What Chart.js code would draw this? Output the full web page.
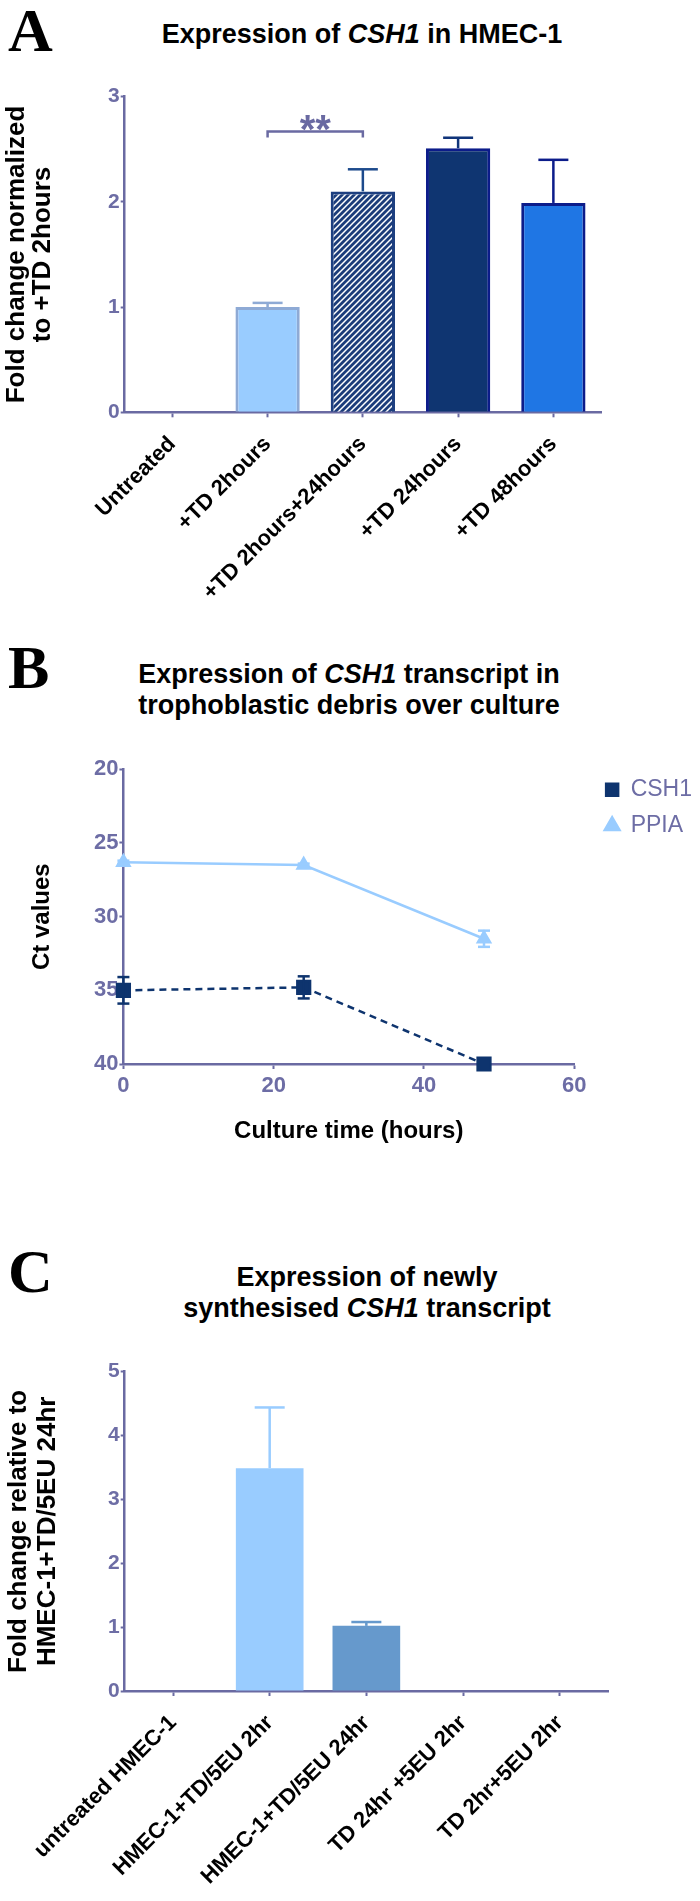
<!DOCTYPE html>
<html>
<head>
<meta charset="utf-8">
<script src="https://cdn.jsdelivr.net/npm/chart.js@4.4.1/dist/chart.umd.min.js"></script>
<style>
  html, body { margin: 0; padding: 0; background: #fff; }
  body { width: 700px; height: 1901px; position: relative; overflow: hidden;
         font-family: "Liberation Sans", Arial, sans-serif; }
  .letter { position: absolute; left: 8px; font-family: "Liberation Serif", "Times New Roman", serif;
            font-weight: bold; font-size: 62px; line-height: 1; color: #000; }
  .title { position: absolute; font-weight: bold; font-size: 27px; line-height: 31px;
           color: #000; text-align: center; white-space: nowrap; }
  canvas { position: absolute; left: 0; }
</style>
</head>
<body>

<div class="letter" style="top:-1px;">A</div>
<div class="title" style="left:112px; top:19px; width:500px;">Expression of <i>CSH1</i> in HMEC-1</div>
<canvas id="chartA" width="700" height="560" style="top:60px;"></canvas>

<div class="letter" style="top:636px;">B</div>
<div class="title" style="left:99px; top:659px; width:500px;">Expression of <i>CSH1</i> transcript in<br>trophoblastic debris over culture</div>
<canvas id="chartB" width="700" height="440" style="top:740px;"></canvas>

<div class="letter" style="top:1240px;">C</div>
<div class="title" style="left:117px; top:1262px; width:500px;">Expression of newly<br>synthesised <i>CSH1</i> transcript</div>
<canvas id="chartC" width="700" height="561" style="top:1340px;"></canvas>

<script>
/* =========================================
   DATA
========================================= */

// panel A - CSH1 in HMEC-1
const catsA = ["Untreated", "+TD 2hours", "+TD 2hours+24hours", "+TD 24hours", "+TD 48hours"];
const foldA = [0, 1.00, 2.10, 2.51, 1.99];
const errA = [0, 0.04, 0.21, 0.10, 0.41];
const yTicksA = [0, 1, 2, 3];
const sigA = { from: 1, to: 2, level: 2.67, text: "**" };

// panel B - Ct values over culture
const timeB = [0, 24, 48];
const csh1Ct = [35.0, 34.8, 40.0];
const csh1Err = [0.9, 0.75, 0];
const ppiaCt = [26.3, 26.5, 31.5];
const ppiaErr = [0.1, 0.1, 0.55];
const xTicksB = [0, 20, 40, 60];
const yTicksB = [20, 25, 30, 35, 40];

// panel C - newly synthesised transcript
const catsC = ["untreated HMEC-1", "HMEC-1+TD/5EU 2hr", "HMEC-1+TD/5EU 24hr", "TD 24hr +5EU 2hr", "TD 2hr+5EU 2hr"];
const foldC = [0, 3.49, 1.02, 0, 0];
const errC = [0, 0.95, 0.06, 0, 0];
const yTicksC = [0, 1, 2, 3, 4, 5];


/* =========================================
   STYLE
========================================= */

const axisColor = "#6a6aa2";
const tickColor = "#6d6da5";
const FONT = "'Liberation Sans', Arial, sans-serif";
const NONE = "rgba(0,0,0,0)";

Chart.defaults.font.family = FONT;
Chart.defaults.animation = false;

function makeHatch(bg, fg) {
    const c = document.createElement("canvas");
    c.width = 6;
    c.height = 6;
    const g = c.getContext("2d");
    g.fillStyle = bg;
    g.fillRect(0, 0, 6, 6);
    g.strokeStyle = fg;
    g.lineWidth = 1.5;
    g.beginPath();
    g.moveTo(0, 6); g.lineTo(6, 0);
    g.moveTo(-3, 3); g.lineTo(3, -3);
    g.moveTo(3, 9); g.lineTo(9, 3);
    g.stroke();
    return g.createPattern(c, "repeat");
}


/* =========================================
   PLUGINS
========================================= */

// error bars (upper only for bars, both sides for points)
const errorBars = {
    id: "errorBars",
    afterDatasetsDraw(chart) {
        const ctx = chart.ctx;
        const yScale = chart.scales.y;
        chart.data.datasets.forEach((ds, di) => {
            if (!ds.errors) return;
            const meta = chart.getDatasetMeta(di);
            meta.data.forEach((el, i) => {
                const err = ds.errors[i];
                if (!err) return;
                const raw = ds.data[i];
                const v = typeof raw === "object" ? raw.y : raw;
                const color = Array.isArray(ds.errorColor) ? ds.errorColor[i] : ds.errorColor;
                const cap = ds.errorCap || 15;
                ctx.save();
                ctx.strokeStyle = color;
                ctx.lineWidth = ds.errorWidth || 2.5;
                const drawCap = (y) => {
                    ctx.beginPath();
                    ctx.moveTo(el.x - cap, y);
                    ctx.lineTo(el.x + cap, y);
                    ctx.stroke();
                };
                const yTop = yScale.getPixelForValue(v + err);
                const yMid = yScale.getPixelForValue(v);
                if (ds.errorBoth) {
                    const yBot = yScale.getPixelForValue(v - err);
                    ctx.beginPath();
                    ctx.moveTo(el.x, yTop);
                    ctx.lineTo(el.x, yBot);
                    ctx.stroke();
                    drawCap(yTop);
                    drawCap(yBot);
                } else {
                    ctx.beginPath();
                    ctx.moveTo(el.x, yMid);
                    ctx.lineTo(el.x, yTop);
                    ctx.stroke();
                    drawCap(yTop);
                }
                ctx.restore();
            });
        });
    }
};

// significance bracket for panel A
const sigBracket = {
    id: "sigBracket",
    afterDatasetsDraw(chart, args, opts) {
        if (!opts || !opts.text) return;
        const ctx = chart.ctx;
        const x1 = chart.scales.x.getPixelForValue(opts.from);
        const x2 = chart.scales.x.getPixelForValue(opts.to);
        const y = chart.scales.y.getPixelForValue(opts.level);
        ctx.save();
        ctx.strokeStyle = axisColor;
        ctx.lineWidth = 2.5;
        ctx.beginPath();
        ctx.moveTo(x1, y + 6);
        ctx.lineTo(x1, y);
        ctx.lineTo(x2, y);
        ctx.lineTo(x2, y + 6);
        ctx.stroke();
        ctx.fillStyle = axisColor;
        ctx.font = "bold 40px " + FONT;
        ctx.textAlign = "center";
        ctx.textBaseline = "alphabetic";
        ctx.fillText(opts.text, (x1 + x2) / 2, y + 12);
        ctx.restore();
    }
};

// nudge the right legend away from the plot
const legendShift = {
    id: "legendShift",
    afterLayout(chart, args, opts) {
        if (!chart.legend) return;
        const dx = opts.dx || 0;
        const dy = opts.dy || 0;
        chart.legend.left += dx;
        chart.legend.right += dx;
        chart.legend.top += dy;
        chart.legend.bottom += dy;
    }
};


/* =========================================
   SHARED AXIS HELPERS
========================================= */

function catAxis(labels, height) {
    return {
        type: "category",
        labels: labels,
        offset: true,
        grid: { display: true, offset: false, drawOnChartArea: false, tickLength: 5, tickWidth: 2, tickColor: axisColor },
        border: { display: true, color: axisColor, width: 2.5 },
        ticks: { color: "#000", font: { size: 22, weight: "bold" }, minRotation: 45, maxRotation: 45, autoSkip: false, padding: 14 },
        afterFit: s => { s.height = height; }
    };
}

function valueAxis(ticks, titleLines, width, lineHeight, pad) {
    return {
        min: ticks[0],
        max: ticks[ticks.length - 1],
        grid: { drawOnChartArea: false, tickLength: 4, tickWidth: 2, tickColor: axisColor },
        border: { color: axisColor, width: 2.5 },
        ticks: { stepSize: ticks[1] - ticks[0], color: tickColor, font: { size: 21, weight: "bold" }, padding: 1 },
        title: { display: true, text: titleLines, color: "#000", font: { size: 26, weight: "bold", lineHeight: lineHeight }, padding: { top: pad, bottom: 0 } },
        afterFit: s => { s.width = width; }
    };
}


/* =========================================
   PANEL A
========================================= */

new Chart(document.getElementById("chartA"), {
    type: "bar",
    data: {
        labels: catsA,
        datasets: [{
            data: foldA,
            backgroundColor: [NONE, "#99ccff", makeHatch("#1b3c7a", "#ffffff"), "#0f3571", "#1f76e4"],
            borderColor: [NONE, "#8eaad5", "#1d3f80", "#0c1c8a", "#0c1c8a"],
            borderWidth: 3,
            borderSkipped: "bottom",
            barPercentage: 0.675,
            categoryPercentage: 1,
            errors: errA,
            errorColor: [NONE, "#8eaad5", "#1d4a8c", "#10347a", "#0c1c8a"],
            errorCap: 15
        }]
    },
    options: {
        responsive: false,
        layout: { padding: { left: 0, right: 99, top: 36.7, bottom: 0 } },
        plugins: {
            legend: { display: false },
            tooltip: { enabled: false },
            sigBracket: sigA
        },
        scales: {
            x: catAxis(catsA, 207.7),
            y: valueAxis(yTicksA, ["Fold change normalized", "to +TD 2hours"], 124.7, 1.02, 3.5)
        }
    },
    plugins: [errorBars, sigBracket]
});


/* =========================================
   PANEL B
========================================= */

new Chart(document.getElementById("chartB"), {
    type: "line",
    data: {
        datasets: [
            {
                label: "CSH1",
                data: timeB.map((t, i) => ({ x: t, y: csh1Ct[i] })),
                borderColor: "#0e346e",
                backgroundColor: "#0e346e",
                borderWidth: 2.5,
                borderDash: [7, 5],
                pointStyle: "rect",
                pointRadius: 9,
                clip: false,
                errors: csh1Err,
                errorColor: "#0e346e",
                errorBoth: true,
                errorCap: 6
            },
            {
                label: "PPIA",
                data: timeB.map((t, i) => ({ x: t, y: ppiaCt[i] })),
                borderColor: "#99ccff",
                backgroundColor: "#99ccff",
                borderWidth: 2.5,
                pointStyle: "triangle",
                pointRadius: 7,
                clip: false,
                errors: ppiaErr,
                errorColor: "#99ccff",
                errorBoth: true,
                errorCap: 6
            }
        ]
    },
    options: {
        responsive: false,
        layout: { padding: { left: 0, right: 16, top: 29.3, bottom: 30 } },
        plugins: {
            legend: {
                position: "right",
                align: "start",
                labels: {
                    usePointStyle: true,
                    boxWidth: 14,
                    boxHeight: 12,
                    padding: 13,
                    color: tickColor,
                    font: { size: 23 }
                }
            },
            legendShift: { dx: 18, dy: -4 },
            tooltip: { enabled: false }
        },
        scales: {
            x: {
                type: "linear",
                min: xTicksB[0],
                max: xTicksB[xTicksB.length - 1],
                grid: { drawOnChartArea: false, tickLength: 5, tickWidth: 2, tickColor: axisColor },
                border: { color: axisColor, width: 2.5 },
                ticks: { stepSize: xTicksB[1] - xTicksB[0], color: tickColor, font: { size: 22, weight: "bold" }, padding: 4 },
                title: { display: true, text: "Culture time (hours)", color: "#000", font: { size: 24, weight: "bold" }, padding: { top: 0, bottom: 4 } },
                afterFit: s => { s.height = 86; }
            },
            y: {
                reverse: true,
                min: yTicksB[0],
                max: yTicksB[yTicksB.length - 1],
                grid: { drawOnChartArea: false, tickLength: 4, tickWidth: 2, tickColor: axisColor },
                border: { color: axisColor, width: 2.5 },
                ticks: { stepSize: yTicksB[1] - yTicksB[0], color: tickColor, font: { size: 22, weight: "bold" }, padding: 1 },
                title: { display: true, text: "Ct values", color: "#000", font: { size: 24, weight: "bold" }, padding: { top: 28, bottom: 0 } },
                afterFit: s => { s.width = 123.4; }
            }
        }
    },
    plugins: [errorBars, legendShift]
});


/* =========================================
   PANEL C
========================================= */

new Chart(document.getElementById("chartC"), {
    type: "bar",
    data: {
        labels: catsC,
        datasets: [{
            data: foldC,
            backgroundColor: [NONE, "#99ccff", "#6699cc", NONE, NONE],
            borderWidth: 0,
            barPercentage: 0.70,
            categoryPercentage: 1,
            errors: errC,
            errorColor: [NONE, "#99ccff", "#6699cc", NONE, NONE],
            errorCap: 15
        }]
    },
    options: {
        responsive: false,
        layout: { padding: { left: 0, right: 92, top: 31.7, bottom: 0 } },
        plugins: {
            legend: { display: false },
            tooltip: { enabled: false }
        },
        scales: {
            x: catAxis(catsC, 210),
            y: valueAxis(yTicksC, ["Fold change relative to", "HMEC-1+TD/5EU 24hr"], 124.7, 1.1, 5)
        }
    },
    plugins: [errorBars]
});
</script>
</body>
</html>
